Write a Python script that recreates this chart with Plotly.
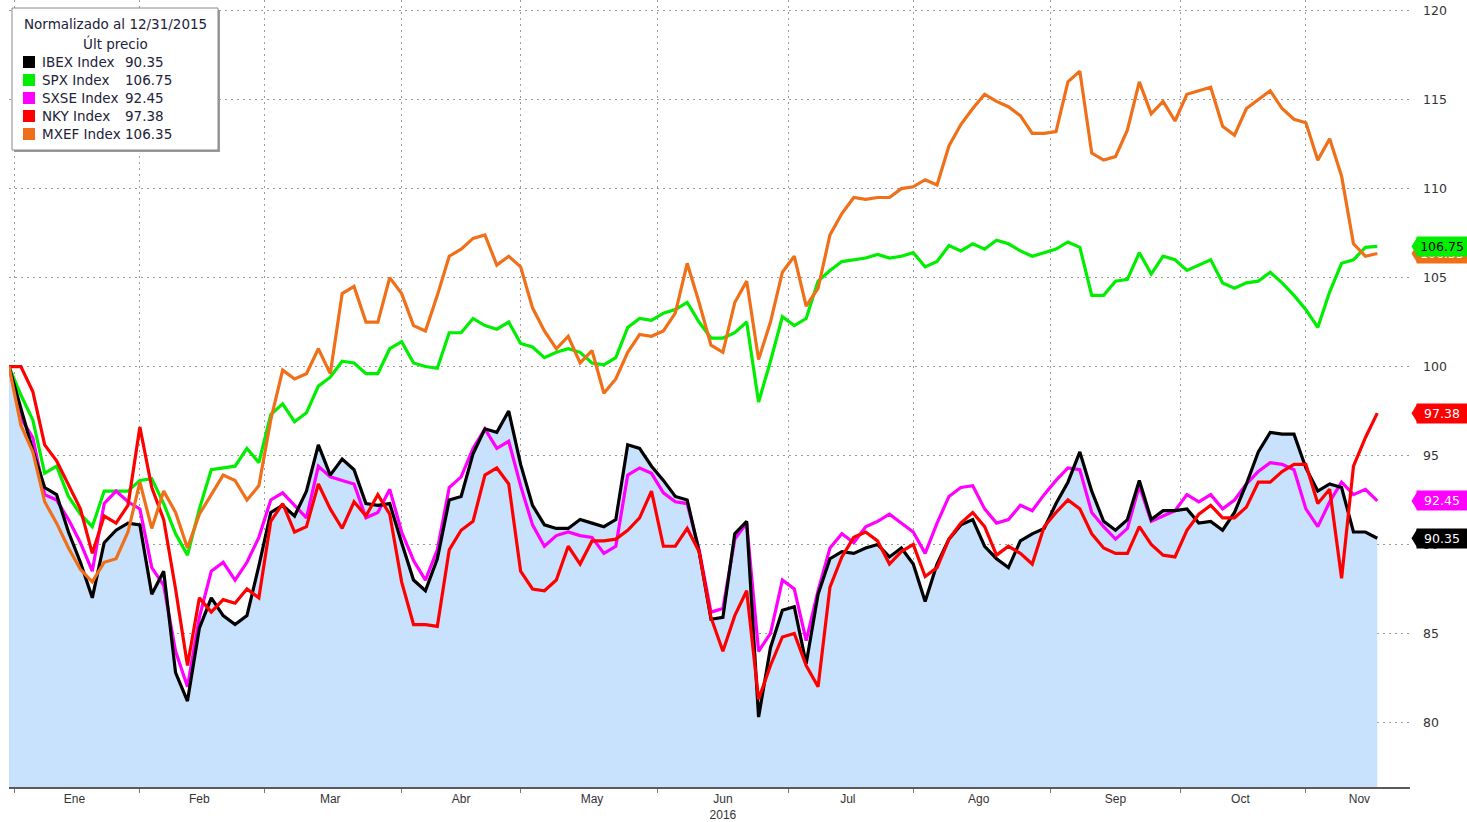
import pandas as pd
import plotly.graph_objects as go

# ---------------- data (sampled every 2 business days from 12/31/2015) ----------------
dates = pd.bdate_range("2015-12-31", periods=231)[::2]

ibex = [100, 97.6, 95.3, 93.2, 92.8, 90.7, 89.0, 87.0, 90.1, 90.8,
        91.2, 91.1, 87.2, 88.5, 82.8, 81.2, 85.3, 87.0, 86.0, 85.5,
        86.0, 88.8, 91.8, 92.2, 91.6, 93.0, 95.6, 93.9, 94.8, 94.2,
        92.3, 92.2, 92.3, 90.1, 88.0, 87.4, 89.2, 92.5, 92.7, 95.1,
        96.5, 96.3, 97.5, 94.5, 92.2, 91.1, 90.9, 90.9, 91.4, 91.2,
        91.0, 91.4, 95.6, 95.4, 94.4, 93.6, 92.7, 92.5, 89.6, 85.8,
        85.9, 90.6, 91.3, 80.3, 84.2, 86.3, 86.5, 83.3, 87.2, 89.2,
        89.6, 89.5, 89.8, 90.0, 89.3, 89.8, 88.9, 86.8, 88.9, 90.3,
        91.1, 91.4, 89.9, 89.2, 88.7, 90.2, 90.6, 90.9, 92.3, 93.5,
        95.2, 93.0, 91.3, 90.8, 91.4, 93.6, 91.4, 91.9, 91.9, 92.0,
        91.2, 91.3, 90.8, 91.8, 93.4, 95.2, 96.3, 96.2, 96.2, 94.3,
        93.0, 93.4, 93.2, 90.7, 90.7, 90.35]

spx = [100, 98.4, 97.0, 94.0, 94.4, 92.7, 91.7, 91.0, 93.0, 93.0,
       93.0, 93.6, 93.7, 92.3, 90.6, 89.4, 92.0, 94.2, 94.3, 94.4,
       95.4, 94.6, 97.3, 97.9, 96.9, 97.4, 98.9, 99.4, 100.3, 100.2,
       99.6, 99.6, 101.0, 101.4, 100.2, 100.0, 99.9, 101.9, 101.9, 102.7,
       102.3, 102.1, 102.5, 101.3, 101.1, 100.5, 100.8, 101.0, 100.8, 100.2,
       100.1, 100.5, 102.2, 102.7, 102.6, 103.0, 103.2, 103.6, 102.5, 101.6,
       101.6, 101.9, 102.5, 98.0, 100.3, 102.8, 102.3, 102.7, 104.8, 105.4,
       105.9, 106.0, 106.1, 106.3, 106.1, 106.2, 106.4, 105.6, 105.9, 106.8,
       106.5, 106.9, 106.6, 107.1, 106.9, 106.5, 106.2, 106.4, 106.6, 107.0,
       106.7, 104.0, 104.0, 104.8, 104.9, 106.4, 105.2, 106.2, 106.0, 105.4,
       105.7, 106.0, 104.7, 104.4, 104.7, 104.8, 105.3, 104.7, 104.0, 103.2,
       102.2, 104.2, 105.8, 106.0, 106.7, 106.75]

sxse = [100, 97.1, 96.0, 92.8, 92.5, 91.4, 90.1, 88.5, 92.3, 93.0,
        92.4, 92.0, 88.7, 87.7, 84.0, 82.0, 85.9, 88.5, 89.0, 88.0,
        89.0, 90.4, 92.5, 92.9, 92.2, 91.5, 94.4, 93.8, 93.6, 93.4,
        91.5, 91.8, 93.1, 90.7, 89.1, 88.0, 89.7, 93.2, 93.8, 95.4,
        96.5, 95.4, 95.8, 93.3, 91.1, 89.9, 90.5, 90.7, 90.5, 90.4,
        89.5, 89.9, 93.9, 94.3, 94.0, 92.9, 92.4, 92.3, 89.7, 86.2,
        86.4, 90.3, 91.2, 84.0, 85.0, 88.0, 87.5, 84.6, 87.4, 89.8,
        90.6, 90.1, 91.0, 91.3, 91.7, 91.2, 90.7, 89.5, 91.2, 92.7,
        93.2, 93.3, 92.0, 91.2, 91.4, 92.2, 91.9, 92.8, 93.6, 94.3,
        94.2, 91.8, 91.0, 90.3, 90.9, 93.3, 91.3, 91.6, 91.9, 92.8,
        92.4, 92.8, 92.0, 92.5, 93.4, 94.1, 94.6, 94.5, 94.2, 92.0,
        91.0, 92.4, 93.5, 92.8, 93.1, 92.45]

nky = [100, 100.0, 98.6, 95.6, 94.7, 93.3, 92.0, 89.5, 91.6, 91.2,
       92.2, 96.6, 93.2, 91.4, 87.5, 83.2, 87.0, 86.2, 86.9, 86.7,
       87.5, 87.0, 91.3, 92.3, 90.7, 91.0, 93.4, 92.0, 90.9, 92.4,
       91.6, 92.8, 91.7, 87.9, 85.5, 85.5, 85.4, 89.7, 90.8, 91.3,
       93.9, 94.3, 93.4, 88.5, 87.5, 87.4, 88.0, 89.9, 88.9, 90.2,
       90.2, 90.3, 90.8, 91.5, 93.0, 89.9, 89.9, 90.9, 89.6, 85.9,
       84.0, 86.0, 87.4, 81.3, 83.2, 84.8, 85.0, 83.2, 82.0, 87.6,
       89.3, 90.4, 90.7, 90.2, 88.9, 89.6, 90.0, 88.2, 88.7, 90.3,
       91.2, 91.8, 91.0, 89.4, 89.9, 89.5, 88.9, 91.0, 91.8, 92.5,
       92.0, 90.6, 89.8, 89.5, 89.5, 91.0, 90.0, 89.4, 89.3, 90.8,
       91.7, 92.2, 91.5, 91.5, 92.1, 93.5, 93.5, 94.1, 94.5, 94.5,
       92.3, 93.1, 88.1, 94.4, 96.0, 97.38]

mxef = [100, 96.7, 95.2, 92.4, 91.2, 89.8, 88.6, 87.9, 89.0, 89.2,
        90.7, 93.5, 90.9, 93.0, 91.8, 89.8, 91.7, 92.8, 93.9, 93.6,
        92.5, 93.3, 97.0, 99.8, 99.3, 99.6, 101.0, 99.6, 104.1, 104.5,
        102.5, 102.5, 105.0, 104.1, 102.3, 102.0, 104.0, 106.2, 106.6, 107.2,
        107.4, 105.7, 106.2, 105.6, 103.3, 102.0, 101.0, 101.7, 100.2, 100.9,
        98.5, 99.3, 100.8, 101.8, 101.7, 102.0, 103.0, 105.8, 103.6, 101.2,
        100.8, 103.6, 104.8, 100.4, 102.5, 105.3, 106.2, 103.4, 104.4, 107.4,
        108.6, 109.5, 109.4, 109.5, 109.5, 110.0, 110.1, 110.5, 110.2, 112.4,
        113.6, 114.5, 115.3, 114.9, 114.6, 114.1, 113.1, 113.1, 113.2, 116.0,
        116.6, 112.0, 111.6, 111.8, 113.3, 116.0, 114.2, 114.9, 113.8, 115.3,
        115.5, 115.7, 113.5, 113.0, 114.5, 115.0, 115.5, 114.5, 113.9, 113.7,
        111.6, 112.8, 110.7, 106.9, 106.2, 106.35]

names = ["IBEX Index", "SPX Index", "SXSE Index", "NKY Index", "MXEF Index"]
month_labels = ["Ene", "Feb", "Mar", "Abr", "May", "Jun<br>2016", "Jul", "Ago", "Sep", "Oct", "Nov"]
y_ticks = [80, 85, 90, 95, 100, 105, 110, 115, 120]
legend_title = "Normalizado al 12/31/2015"
legend_sub = "Últ precio"

# ---------------- style ----------------
C_IBEX, C_SPX, C_SXSE, C_NKY, C_MXEF = "#000000", "#00ee00", "#ff00ff", "#ff0000", "#f0701a"
FILL = "#c8e1fc"
W, H = 1467, 822
ML, MR, MT, MB = 9, 57, 0, 35
PW, PH = W - ML - MR, H - MT - MB
X_START, X_END = "2015-12-31", "2016-11-24 12:00"
Y_RANGE = [76.37, 120.6]
FONT = "DejaVu Sans"


def px_x(px):
    return (px - ML) / PW


def px_y(py):
    return 1 - (py - MT) / PH


fig = go.Figure()
fig.add_trace(go.Scatter(x=dates, y=ibex, mode="none", fill="tozeroy",
                         fillcolor=FILL, hoverinfo="skip", showlegend=False))
for vals, col in [(spx, C_SPX), (sxse, C_SXSE), (ibex, C_IBEX), (nky, C_NKY), (mxef, C_MXEF)]:
    fig.add_trace(go.Scatter(x=dates, y=vals, mode="lines",
                             line=dict(color=col, width=3.2), showlegend=False))

# month tick positions (middle business day of each month)
all_bd = pd.bdate_range(X_START, X_END)
tickvals = []
for m in range(1, 12):
    d = all_bd[(all_bd.year == 2016) & (all_bd.month == m)]
    tickvals.append(d[len(d) // 2])

fig.update_xaxes(
    range=[X_START, X_END], automargin=False,
    rangebreaks=[dict(bounds=["sat", "mon"])],
    tickmode="array", tickvals=tickvals, ticktext=month_labels,
    ticks="", showgrid=False, zeroline=False,
    showline=True, linecolor="#5a5a5a", linewidth=2,
    tickfont=dict(family="Liberation Sans Narrow, Liberation Sans", size=12, color="#333"),
    minor=dict(dtick="M1", tick0="2016-01-01", showgrid=True, gridcolor="#9a9a9a",
               griddash="2px,4px", gridwidth=1, ticks="outside", ticklen=4, tickcolor="#777"),
)
fig.update_yaxes(
    side="right", range=Y_RANGE, tickmode="array", tickvals=y_ticks, automargin=False,
    showgrid=True, gridcolor="#9a9a9a", griddash="2px,4px", gridwidth=1,
    zeroline=False, showline=False, ticks="", ticklabelstandoff=12,
    tickfont=dict(family=FONT, size=12.5, color="#333"),
)

shapes = []
annotations = []

# right-side last value tags (orange first, beneath green)
tags = [(mxef[-1], C_MXEF, "white"), (spx[-1], C_SPX, "black"), (nky[-1], C_NKY, "white"),
        (sxse[-1], C_SXSE, "white"), (ibex[-1], C_IBEX, "white")]
for v, col, fc in tags:
    shapes.append(dict(type="path", xref="paper", yref="y",
                       path=f"M {1 + 1.5 / PW},{v} L {1 + 7 / PW},{v + 0.5} L {1 + 7 / PW},{v - 0.5} Z",
                       fillcolor=col, line=dict(width=0)))
    annotations.append(dict(x=1, xref="paper", y=v, yref="y", xanchor="left", yanchor="middle",
                            xshift=6, text=f"{v:.2f}", showarrow=False, bgcolor=col,
                            font=dict(family=FONT, size=12.5, color=fc), width=46, height=15,
                            borderpad=2, align="center"))

# legend box
shapes.append(dict(type="rect", xref="paper", yref="paper", x0=px_x(14), x1=px_x(220),
                   y0=px_y(152), y1=px_y(10), fillcolor="#9a9a9a", line=dict(width=0)))
shapes.append(dict(type="rect", xref="paper", yref="paper", x0=px_x(12), x1=px_x(218),
                   y0=px_y(150), y1=px_y(8), fillcolor="white", line=dict(color="#8a8a8a", width=1)))
TXT = "#22223a"
annotations.append(dict(x=px_x(115), y=px_y(24), xref="paper", yref="paper", text=legend_title,
                        showarrow=False, xanchor="center", yanchor="middle",
                        font=dict(family=FONT, size=13.5, color=TXT)))
annotations.append(dict(x=px_x(115), y=px_y(43), xref="paper", yref="paper", text=legend_sub,
                        showarrow=False, xanchor="center", yanchor="middle",
                        font=dict(family=FONT, size=13.5, color=TXT)))
series_last = [ibex[-1], spx[-1], sxse[-1], nky[-1], mxef[-1]]
series_col = [C_IBEX, C_SPX, C_SXSE, C_NKY, C_MXEF]
for i, (nm, v, col) in enumerate(zip(names, series_last, series_col)):
    yc = 62 + 18 * i
    shapes.append(dict(type="rect", xref="paper", yref="paper", x0=px_x(23), x1=px_x(35),
                       y0=px_y(yc + 6), y1=px_y(yc - 6), fillcolor=col, line=dict(width=0)))
    annotations.append(dict(x=px_x(40), y=px_y(yc), xref="paper", yref="paper", text=nm,
                            showarrow=False, xanchor="left", yanchor="middle",
                            font=dict(family=FONT, size=13.5, color=TXT)))
    annotations.append(dict(x=px_x(123), y=px_y(yc), xref="paper", yref="paper", text=f"{v:.2f}",
                            showarrow=False, xanchor="left", yanchor="middle",
                            font=dict(family=FONT, size=13.5, color=TXT)))

fig.update_layout(
    width=W, height=H, margin=dict(l=ML, r=MR, t=MT, b=MB, autoexpand=False),
    paper_bgcolor="white", plot_bgcolor="white",
    shapes=shapes, annotations=annotations, showlegend=False,
)

fig.write_html("out.html", config={"displayModeBar": False},
               post_script="document.body.style.margin='0';document.body.style.overflow='hidden';")
